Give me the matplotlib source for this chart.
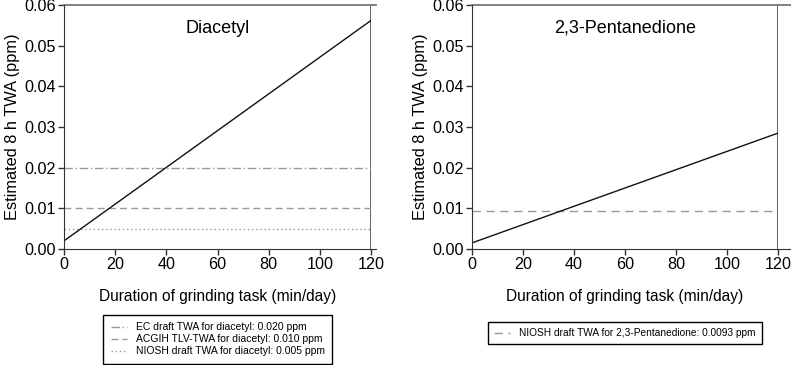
import numpy as np
import matplotlib
matplotlib.use("Agg")
import matplotlib.pyplot as plt

plt.rcParams['font.family'] = ['Liberation Sans', 'DejaVu Sans']

# duration of grinding task (min/day) and estimated 8 h TWA (ppm)
duration = [0, 120]
diacetyl_twa = [0.002, 0.0562]
pentanedione_twa = [0.0015, 0.0285]

diacetyl_limits = [0.020, 0.010, 0.005]
diacetyl_labels = ['EC draft TWA for diacetyl: 0.020 ppm',
                   'ACGIH TLV-TWA for diacetyl: 0.010 ppm',
                   'NIOSH draft TWA for diacetyl: 0.005 ppm']
pentanedione_limits = [0.0093]
pentanedione_labels = ['NIOSH draft TWA for 2,3-Pentanedione: 0.0093 ppm']

xticks = [0, 20, 40, 60, 80, 100, 120]
yticks = [0.00, 0.01, 0.02, 0.03, 0.04, 0.05, 0.06]

fig = plt.figure(figsize=(7.91, 3.65), dpi=100)
ax1 = fig.add_axes([64/791, 1-249/365, 307/791, 244/365])
ax2 = fig.add_axes([472/791, 1-249/365, 306/791, 244/365])

styles1 = [(0, (6, 2, 1, 2)), (0, (5, 3)), (0, (1, 2))]
styles2 = [(0, (6, 4))]


def setup(ax, title, ext):
    ax.set_xlim(0, 120)
    ax.set_ylim(0, 0.06)
    ax.set_xticks(xticks)
    ax.set_yticks(yticks)
    ax.set_yticklabels(['%.2f' % v for v in yticks])
    ax.tick_params(direction='out', length=4.5, width=1, labelsize=11.6, pad=1.5, color='#333333')
    for s in ['top', 'right']:
        ax.spines[s].set_visible(False)
    ax.spines['left'].set_color('#333333')
    ax.spines['bottom'].set_color('#333333')
    ax.spines['bottom'].set_bounds(0, ext)
    ax.axvline(120, color='#555555', lw=1.3)
    ax.plot([0, ext], [0.06, 0.06], color='#777777', lw=1.3, clip_on=False)
    ax.text(0.5, 0.94, title, transform=ax.transAxes, ha='center', va='top', fontsize=13)
    ax.set_xlabel('Duration of grinding task (min/day)', fontsize=11.2, labelpad=12)
    ax.set_ylabel('Estimated 8 h TWA (ppm)', fontsize=11.8, labelpad=3)


setup(ax1, 'Diacetyl', 122)
for v, lab, ls in zip(diacetyl_limits, diacetyl_labels, styles1):
    ax1.axhline(v, color='#999999', lw=1, ls=ls, label=lab)
ax1.plot(duration, diacetyl_twa, color='#111111', lw=1)
ax1.legend(loc='upper center', bbox_to_anchor=(0.5, -0.27), fontsize=7.5, frameon=True,
           fancybox=False, edgecolor='black', handlelength=1.6, handletextpad=0.8,
           borderpad=0.7, borderaxespad=0, labelspacing=0.2, framealpha=1)

setup(ax2, '2,3-Pentanedione', 125)
for v, lab, ls in zip(pentanedione_limits, pentanedione_labels, styles2):
    ax2.axhline(v, color='#999999', lw=1, ls=ls, label=lab)
ax2.plot(duration, pentanedione_twa, color='#111111', lw=1)
ax2.legend(loc='upper center', bbox_to_anchor=(0.5, -0.3), fontsize=7.3, frameon=True,
           fancybox=False, edgecolor='black', handlelength=1.6, handletextpad=0.9,
           borderpad=0.6, borderaxespad=0, framealpha=1)

fig.savefig('out.png', dpi=100)
